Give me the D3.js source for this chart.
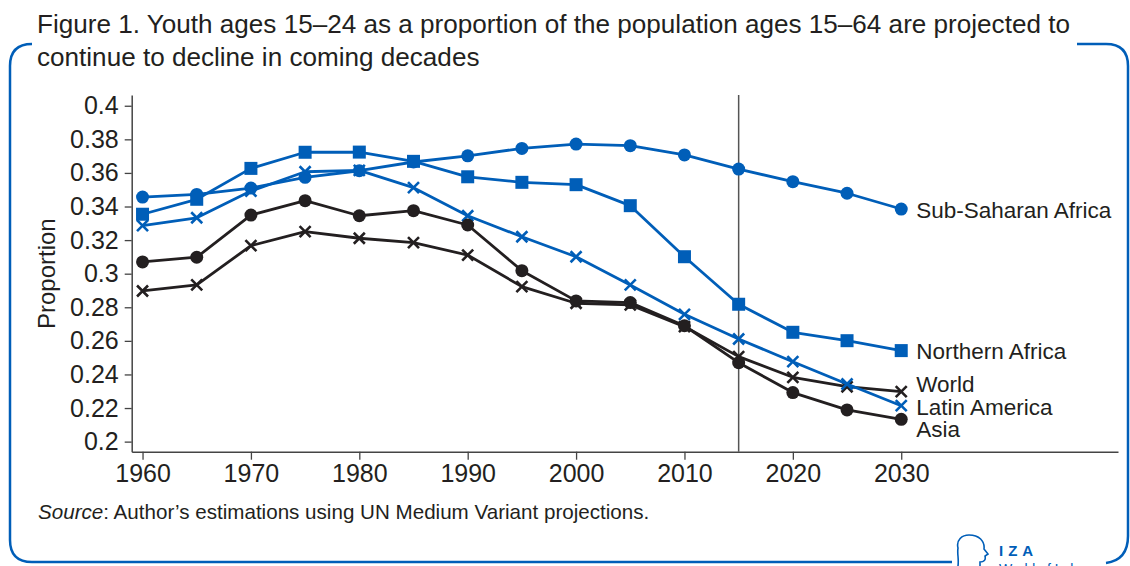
<!DOCTYPE html>
<html>
<head>
<meta charset="utf-8">
<script src="https://cdn.jsdelivr.net/npm/d3@7"></script>
<style>
  html, body { margin: 0; padding: 0; background: #fff; }
  svg { display: block; }
  text { font-family: "Liberation Sans", Arial, sans-serif; fill: #231f20; }
</style>
</head>
<body>
<svg id="chart" width="1130" height="566"></svg>
<script>
// Youth (15–24) share of working-age population (15–64), 1960–2030
const years = [1960, 1965, 1970, 1975, 1980, 1985, 1990, 1995, 2000, 2005, 2010, 2015, 2020, 2025, 2030];

const subSaharanAfrica = [0.3456, 0.3472, 0.3510, 0.3574, 0.3613, 0.3665, 0.3702, 0.3746, 0.3772, 0.3762, 0.3707, 0.3623, 0.3548, 0.3479, 0.3385];
const northernAfrica   = [0.3354, 0.3443, 0.3627, 0.3723, 0.3724, 0.3669, 0.3577, 0.3544, 0.3530, 0.3405, 0.3101, 0.2818, 0.2651, 0.2601, 0.2542];
const latinAmerica     = [0.3286, 0.3333, 0.3492, 0.3607, 0.3615, 0.3512, 0.3345, 0.3220, 0.3101, 0.2933, 0.2758, 0.2611, 0.2476, 0.2343, 0.2214];
const asia             = [0.3070, 0.3098, 0.3349, 0.3435, 0.3345, 0.3375, 0.3290, 0.3018, 0.2838, 0.2828, 0.2690, 0.2470, 0.2292, 0.2189, 0.2133];
const world            = [0.2897, 0.2933, 0.3167, 0.3250, 0.3211, 0.3185, 0.3111, 0.2923, 0.2824, 0.2814, 0.2685, 0.2506, 0.2383, 0.2327, 0.2298];

const seriesNames = ["Sub-Saharan Africa", "Northern Africa", "World", "Latin America", "Asia"];

const xTicks = [1960, 1970, 1980, 1990, 2000, 2010, 2020, 2030];
const yTicks = [0.2, 0.22, 0.24, 0.26, 0.28, 0.3, 0.32, 0.34, 0.36, 0.38, 0.4];
const yTickLabels = ["0.2", "0.22", "0.24", "0.26", "0.28", "0.3", "0.32", "0.34", "0.36", "0.38", "0.4"];
const projectionStart = 2015;

const BLUE = "#005eb8";
const DARK = "#231f20";
const LABEL_SIZE = 22.5;

// labelShift: vertical nudge of each end label (px) so close labels don't collide
const series = [
  { name: seriesNames[0], values: subSaharanAfrica, color: BLUE, marker: "circle", labelShift: 0.5 },
  { name: seriesNames[1], values: northernAfrica,   color: BLUE, marker: "square", labelShift: 0.8 },
  { name: seriesNames[2], values: world,            color: DARK, marker: "cross",  labelShift: -7.5 },
  { name: seriesNames[3], values: latinAmerica,     color: BLUE, marker: "cross",  labelShift: 1 },
  { name: seriesNames[4], values: asia,             color: DARK, marker: "circle", labelShift: 10 }
];

const svg = d3.select("#chart");

// Rounded frame (open at the top where the title sits, and at bottom-right for the logo)
const frame = svg.append("g").attr("fill", "none").attr("stroke", BLUE).attr("stroke-width", 2.5);
frame.append("path").attr("d", "M32,44 Q10,44 10,66 L10,540 Q10,562 32,562 L952,562");
frame.append("path").attr("d", "M1077,44 L1106,44 Q1128,44 1128,66 L1128,536 Q1128,560 1106,563");

// Title
const title = svg.append("text").attr("x", 37).attr("font-size", 26.1);
title.append("tspan").attr("x", 37).attr("y", 33).text("Figure 1. Youth ages 15–24 as a proportion of the population ages 15–64 are projected to");
title.append("tspan").attr("x", 37).attr("y", 66).text("continue to decline in coming decades");

// Scales
const x = d3.scaleLinear().domain([1959, 2050]).range([131.7, 1118]);
const y = d3.scaleLinear().domain([0.194, 0.4064]).range([451.7, 95]);

// Axes
const yAxis = d3.axisLeft(y).tickValues(yTicks).tickFormat((d, i) => yTickLabels[i]).tickSize(7).tickPadding(6).tickSizeOuter(0);
const xAxis = d3.axisBottom(x).tickValues(xTicks).tickFormat(d3.format("d")).tickSize(8).tickPadding(5).tickSizeOuter(0);

const gy = svg.append("g").attr("transform", "translate(131.7,0)").call(yAxis);
const gx = svg.append("g").attr("transform", "translate(0,451.7)").call(xAxis);
[gx, gy].forEach(g => {
  g.select(".domain").attr("stroke", "#444").attr("stroke-width", 1.5);
  g.selectAll(".tick line").attr("stroke", "#444").attr("stroke-width", 1.3);
  g.selectAll(".tick text").attr("font-size", 25).attr("fill", DARK)
    .style("font-family", '"Liberation Sans", Arial, sans-serif');
});

// Y-axis title
svg.append("text")
  .attr("transform", `translate(55,${(y(0.4) + y(0.2)) / 2}) rotate(-90)`)
  .attr("text-anchor", "middle").attr("font-size", 24)
  .text("Proportion");

// Start of projections
svg.append("line")
  .attr("x1", x(projectionStart)).attr("x2", x(projectionStart))
  .attr("y1", y.range()[1]).attr("y2", y.range()[0])
  .attr("stroke", "#555").attr("stroke-width", 1.5);

// Series lines and markers
const line = d3.line().x((d, i) => x(years[i])).y(d => y(d));
const plot = svg.append("g");

series.forEach(s => {
  const g = plot.append("g");
  g.append("path").datum(s.values)
    .attr("d", line).attr("fill", "none")
    .attr("stroke", s.color).attr("stroke-width", 2.8).attr("stroke-linejoin", "round");

  const pts = g.selectAll("g.pt").data(s.values).join("g")
    .attr("transform", (d, i) => `translate(${x(years[i])},${y(d)})`);

  if (s.marker === "circle") {
    pts.append("circle").attr("r", 6.5).attr("fill", s.color);
  } else if (s.marker === "square") {
    pts.append("rect").attr("x", -6.5).attr("y", -6.5).attr("width", 13).attr("height", 13).attr("fill", s.color);
  } else {
    pts.append("path").attr("d", "M-5.5,-5.5L5.5,5.5M-5.5,5.5L5.5,-5.5")
      .attr("stroke", s.color).attr("stroke-width", 2.6).attr("fill", "none");
  }

  // End label: caps centred on the last point (plus nudge)
  const last = s.values[s.values.length - 1];
  g.append("text")
    .attr("x", x(years[years.length - 1]) + 15)
    .attr("y", y(last) + s.labelShift + 0.358 * LABEL_SIZE)
    .attr("font-size", LABEL_SIZE)
    .text(s.name);
});

// Source note
const src = svg.append("text").attr("x", 38).attr("y", 519).attr("font-size", 20.6);
src.append("tspan").attr("font-style", "italic").text("Source");
src.append("tspan").text(": Author’s estimations using UN Medium Variant projections.");

// Publisher mark
const logo = svg.append("g");
logo.append("path")
  .attr("d", "M958,566 C959,558 957,554 958,548 C956,540 962,535 969,535 C979,535 985,541 984,549 L988,554 L985,556 C986,560 984,562 980,562 L980,566")
  .attr("fill", "none").attr("stroke", BLUE).attr("stroke-width", 1.6);
logo.append("text").attr("x", 999).attr("y", 556).attr("font-size", 15).attr("font-weight", "bold")
  .attr("letter-spacing", 5).style("fill", BLUE).text("IZA");
logo.append("text").attr("x", 999).attr("y", 574).attr("font-size", 14)
  .style("fill", BLUE).text("World of Labor");
</script>
</body>
</html>
